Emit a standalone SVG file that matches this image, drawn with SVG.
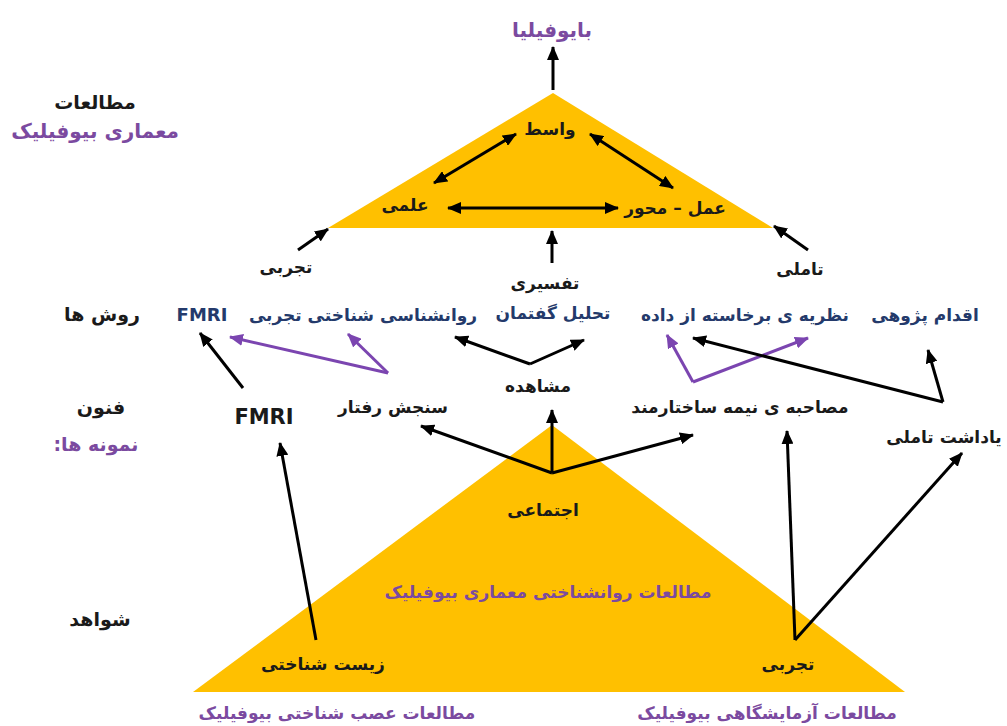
<svg xmlns="http://www.w3.org/2000/svg" width="1007" height="726" viewBox="0 0 1007 726">
<style>
text{font-family:"DejaVu Sans","Noto Sans",sans-serif;font-weight:bold;font-size:17px;text-anchor:middle;direction:rtl}
.k{fill:#1a1a1a}
.p{fill:#7B4AA0}
.b{fill:#243A6B}
.big{font-size:19px}
.ln{stroke:#000;stroke-width:3;fill:none;marker-end:url(#ah)}
.dl{stroke:#000;stroke-width:3;fill:none;marker-end:url(#ah);marker-start:url(#ah)}
.pl{stroke:#7B45B0;stroke-width:3;fill:none;marker-end:url(#ap)}
.tri{fill:#FFC000}
</style>
<defs>
<marker id="ah" viewBox="0 0 14 12" refX="13" refY="6" markerWidth="14" markerHeight="12" markerUnits="userSpaceOnUse" orient="auto-start-reverse"><path d="M0,0 L14,6 L0,12 Z" fill="#000"/></marker>
<marker id="ap" viewBox="0 0 14 12" refX="13" refY="6" markerWidth="14" markerHeight="12" markerUnits="userSpaceOnUse" orient="auto-start-reverse"><path d="M0,0 L14,6 L0,12 Z" fill="#7B45B0"/></marker>
</defs>
<rect width="1007" height="726" fill="#fff"/>

<g id="top-triangle"><polygon class="tri" points="553,93 328,228 773,228"/></g>
<g id="bottom-triangle"><polygon class="tri" points="552,425 193,692 905,692"/></g>

<g id="connectors">
<line class="ln" x1="553" y1="90" x2="553" y2="47"/>
<line class="dl" x1="516" y1="134" x2="434" y2="183"/>
<line class="dl" x1="590" y1="134" x2="673" y2="188"/>
<line class="dl" x1="448" y1="208" x2="618" y2="208"/>
<line class="ln" x1="298" y1="250" x2="328" y2="229"/>
<line class="ln" x1="552" y1="263" x2="552" y2="231"/>
<line class="ln" x1="808" y1="250" x2="774" y2="226"/>
<line class="ln" x1="243" y1="388" x2="200" y2="333"/>
<polyline class="pl" points="388,373 230,337"/>
<polyline class="pl" points="388,373 348,334"/>
<polyline class="ln" points="530,364 455,337"/>
<polyline class="ln" points="530,364 584,340"/>
<polyline class="pl" points="693,382 667,335"/>
<polyline class="pl" points="693,382 808,338"/>
<polyline class="ln" points="943,402 693,338"/>
<polyline class="ln" points="943,402 928,350"/>
<line class="ln" x1="552" y1="473" x2="552" y2="410"/>
<line class="ln" x1="552" y1="473" x2="693" y2="435"/>
<line class="ln" x1="552" y1="473" x2="421" y2="426"/>
<line class="ln" x1="316" y1="640" x2="280" y2="443"/>
<line class="ln" x1="795" y1="640" x2="787" y2="431"/>
<line class="ln" x1="795" y1="640" x2="962" y2="453"/>
</g>

<g id="biophilia"><text class="p" x="552" y="37" style="font-size:20px">بایوفیلیا</text></g>
<g id="label-studies"><text class="k big" x="95" y="109">مطالعات</text><text class="p" x="95" y="138" style="font-size:20px">معماری بیوفیلیک</text></g>
<g id="wasit"><text class="k" x="550" y="135">واسط</text></g>
<g id="elmi"><text class="k" x="405" y="211">علمی</text></g>
<g id="amal"><text class="k" x="675" y="214">عمل – محور</text></g>
<g id="tajrobi-top"><text class="k" x="286" y="273">تجربی</text></g>
<g id="tafsiri"><text class="k" x="545" y="289">تفسیری</text></g>
<g id="taamoli"><text class="k" x="800" y="275">تاملی</text></g>
<g id="label-methods"><text class="k big" x="102" y="321">روش ها</text></g>
<g id="fmri-method"><text class="b" x="202" y="321" style="font-size:18px">FMRI</text></g>
<g id="cog-psych"><text class="b" x="363" y="321">روانشناسی شناختی تجربی</text></g>
<g id="discourse"><text class="b" x="553" y="319">تحلیل گفتمان</text></g>
<g id="grounded"><text class="b" x="745" y="321">نظریه ی برخاسته از داده</text></g>
<g id="action-research"><text class="b" x="925" y="321">اقدام پژوهی</text></g>
<g id="label-techniques"><text class="k big" x="101" y="414">فنون</text><text class="p big" x="96" y="451">نمونه ها:</text></g>
<g id="fmri-tech"><text class="k" x="264" y="424" style="font-size:21px">FMRI</text></g>
<g id="behavior"><text class="k" x="393" y="413">سنجش رفتار</text></g>
<g id="observation"><text class="k" x="538" y="392">مشاهده</text></g>
<g id="interview"><text class="k" x="740" y="413">مصاحبه ی نیمه ساختارمند</text></g>
<g id="memo"><text class="k" x="944" y="443">یاداشت تاملی</text></g>
<g id="social"><text class="k" x="543" y="516">اجتماعی</text></g>
<g id="psych-studies"><text class="p" x="548" y="598">مطالعات روانشناختی معماری بیوفیلیک</text></g>
<g id="label-evidence"><text class="k big" x="100" y="626">شواهد</text></g>
<g id="biological"><text class="k" x="323" y="670">زیست شناختی</text></g>
<g id="tajrobi-bottom"><text class="k" x="788" y="670">تجربی</text></g>
<g id="neuro-studies"><text class="p" x="337" y="719">مطالعات عصب شناختی بیوفیلیک</text></g>
<g id="lab-studies"><text class="p" x="767" y="719">مطالعات آزمایشگاهی بیوفیلیک</text></g>
</svg>
